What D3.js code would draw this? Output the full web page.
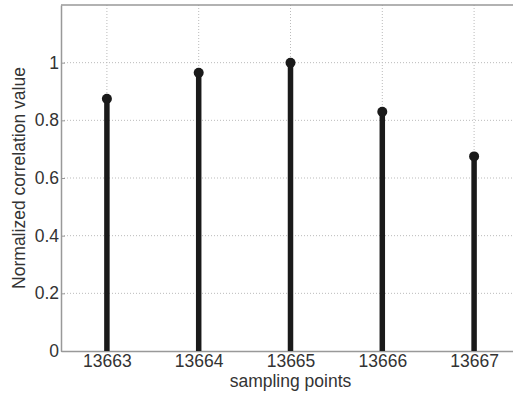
<!DOCTYPE html>
<html>
<head>
<meta charset="utf-8">
<script src="https://cdn.jsdelivr.net/npm/d3@7"></script>
<style>
  html, body { margin: 0; padding: 0; background: #fff; }
  svg { display: block; }
  text { font-family: "Liberation Sans", Arial, sans-serif; fill: #333; }
</style>
</head>
<body>
<script>
// Normalized cross-correlation around the peak sample
const samples = [13663, 13664, 13665, 13666, 13667];
const corr = [0.875, 0.965, 1.0, 0.83, 0.675];
const yTicks = [0, 0.2, 0.4, 0.6, 0.8, 1];
const xTitle = "sampling points";
const yTitle = "Normalized correlation value";

const W = 513, H = 397;
const m = { left: 61, top: 5, right: -7, bottom: 46 };
const pw = W - m.left - m.right, ph = H - m.top - m.bottom;
const fs = 17.5;

const svg = d3.select("body").append("svg").attr("width", W).attr("height", H);
const g = svg.append("g").attr("transform", `translate(${m.left},${m.top})`);

const x = d3.scaleLinear().domain([13662.5, 13667.5]).range([0, pw]);
const y = d3.scaleLinear().domain([0, 1.2]).range([ph, 0]);

// dotted grid
g.append("g").selectAll("line").data(yTicks.filter(d => d > 0)).join("line")
  .attr("x1", 0).attr("x2", pw).attr("y1", d => y(d)).attr("y2", d => y(d))
  .attr("stroke", "#bbb").attr("stroke-width", 1).attr("stroke-dasharray", "1,2");
g.append("g").selectAll("line").data(samples).join("line")
  .attr("x1", d => x(d)).attr("x2", d => x(d)).attr("y1", 0).attr("y2", ph)
  .attr("stroke", "#bbb").attr("stroke-width", 1).attr("stroke-dasharray", "1,2");

// axes
const xAxis = g.append("g").attr("transform", `translate(0,${ph})`)
  .call(d3.axisBottom(x).tickValues(samples).tickFormat(d3.format("d")).tickSizeInner(-4).tickSizeOuter(0).tickPadding(4));
const yAxis = g.append("g")
  .call(d3.axisLeft(y).tickValues(yTicks).tickFormat(d => d === 0 ? "0" : d === 1 ? "1" : d3.format(".1f")(d)).tickSizeInner(-4).tickSizeOuter(0).tickPadding(2));
[xAxis, yAxis].forEach(a => {
  a.select(".domain").attr("stroke", "#999").attr("stroke-width", 1.5);
  a.selectAll(".tick line").attr("stroke", "#999");
  a.selectAll("text").attr("font-size", fs).attr("fill", "#333");
});
g.append("line").attr("x1", 0).attr("x2", pw).attr("y1", 0).attr("y2", 0)
  .attr("stroke", "#999").attr("stroke-width", 1.5);

// stems and markers
g.append("g").selectAll("line").data(samples).join("line")
  .attr("x1", d => x(d)).attr("x2", d => x(d))
  .attr("y1", y(0)).attr("y2", (d, i) => y(corr[i]))
  .attr("stroke", "#1a1a1a").attr("stroke-width", 5.5);
g.append("g").selectAll("circle").data(samples).join("circle")
  .attr("cx", d => x(d)).attr("cy", (d, i) => y(corr[i])).attr("r", 5)
  .attr("fill", "#1a1a1a");

// titles
svg.append("text").attr("x", m.left + pw / 2).attr("y", 387)
  .attr("text-anchor", "middle").attr("font-size", fs).text(xTitle);
svg.append("text").attr("transform", `translate(25,${m.top + ph / 2}) rotate(-90)`)
  .attr("text-anchor", "middle").attr("font-size", fs).text(yTitle);
</script>
</body>
</html>
